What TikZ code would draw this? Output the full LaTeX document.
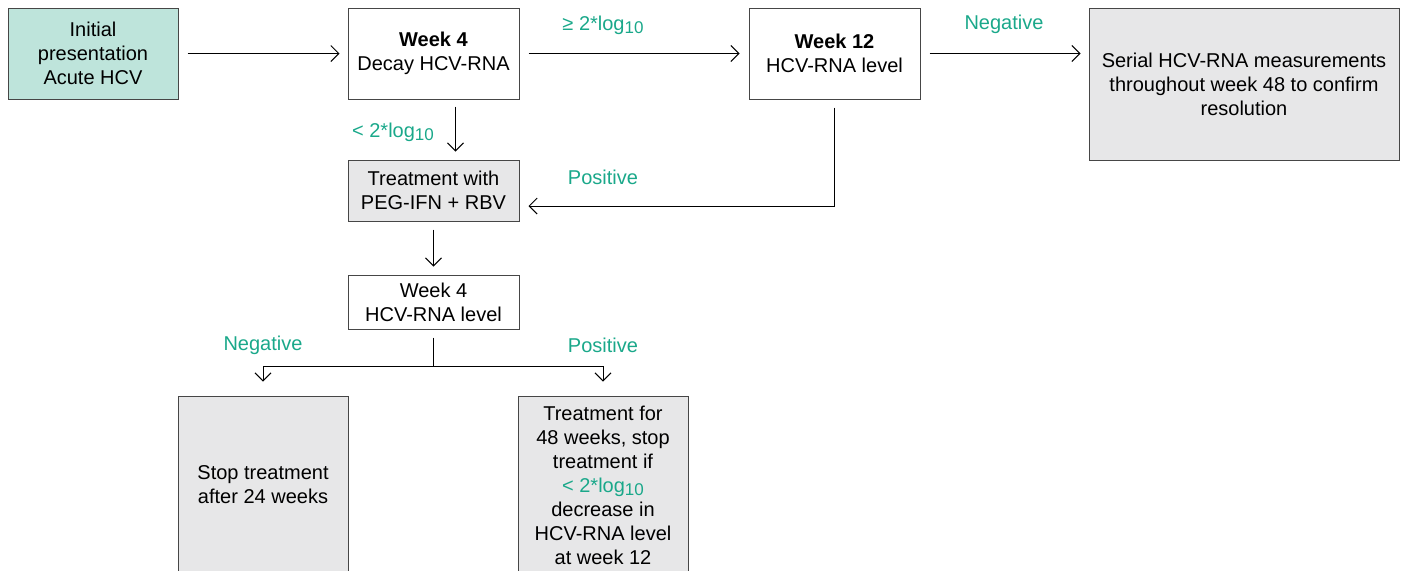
\documentclass[tikz,border=0pt]{standalone}
\usepackage{fontspec}
\setmainfont{Liberation Sans}
\usetikzlibrary{arrows.meta}
\usepackage{xcolor}
\definecolor{hcvgreen}{RGB}{26,168,138}
\definecolor{hcvteal}{RGB}{190,228,219}
\definecolor{hcvgray}{RGB}{231,231,232}
\definecolor{hcvline}{RGB}{70,70,70}
\newcommand{\logten}{log\raisebox{-0.3ex}{\fontsize{8.5}{8.5}\selectfont 10}}

\begin{document}
\begin{tikzpicture}[x=0.5pt,y=-0.5pt,font=\fontsize{10}{12}\selectfont]
    \tikzstyle{box}=[rectangle,draw=hcvline,line width=0.5pt,align=center,inner sep=0pt]
    \tikzstyle{white}=[box,fill=white]
    \tikzstyle{teal}=[box,fill=hcvteal]
    \tikzstyle{gray}=[box,fill=hcvgray]
    \tikzstyle{lbl}=[text=hcvgreen,inner sep=0pt]
    \tikzstyle{arr}=[line width=0.5pt,-{Straight Barb[length=4pt,width=8pt]}]
    \useasboundingbox (0,0) rectangle (1407,570);
    \clip (0,0) rectangle (1407,570);
    \node (init)[teal,minimum width=85pt,minimum height=45.5pt]  at (93,53.5)   {Initial\\presentation\\Acute HCV};
    \node (dec)[white,minimum width=85.5pt,minimum height=45.5pt] at (433.5,53.5) {\textbf{Week 4}\\Decay HCV-RNA};
    \node (wk)[white,minimum width=85.5pt,minimum height=45.5pt]  at (834.5,53.5) {\textbf{Week 12}\\HCV-RNA level};
    \node (ser)[gray,minimum width=155pt,minimum height=76pt]     at (1244,84)    {Serial HCV-RNA measurements\\throughout week 48 to confirm\\resolution};
    \node (trt)[gray,minimum width=85.5pt,minimum height=30.5pt]  at (433.5,190.5) {Treatment with\\PEG-IFN + RBV};
    \node (lvl)[white,minimum width=85.5pt,minimum height=27pt]   at (433.5,302)  {Week 4\\HCV-RNA level};
    \node (stop)[gray,minimum width=85pt,minimum height=89pt]     at (263,485)    {Stop treatment\\after 24 weeks};
    \node (ext)[gray,minimum width=85pt,minimum height=89pt]      at (603,485)    {Treatment for\\48 weeks, stop\\treatment if\\{\color{hcvgreen}< 2*\logten}\\decrease in\\HCV-RNA level\\at week 12};
    \coordinate (fork) at (433.5,366);

    \draw[arr,shorten <=4.5pt,shorten >=4pt] (init) -- (dec);
    \draw[arr,shorten <=4.5pt,shorten >=4.5pt] (dec) -- (wk);
    \draw[arr,shorten <=4.5pt,shorten >=4pt] (wk) -- (ser.west |- wk.east);
    \draw[arr,shorten <=3.5pt,shorten >=4pt] ([xshift=11pt]dec.south) -- ([xshift=11pt]trt.north);
    \draw[arr,shorten <=4pt,shorten >=4.5pt] (wk.south) |- ([yshift=-7.75pt]trt.east);
    \draw[arr,shorten <=4pt,shorten >=4pt] (trt) -- (lvl);
    \draw[shorten <=4pt] (lvl.south) -- (fork);
    \draw[arr,shorten >=7pt] (fork) -| (stop.north);
    \draw[arr,shorten >=7pt] (fork) -| (ext.north);

    \node (l1)[lbl] at (603,25)   {≥ 2*\logten};
    \node (l2)[lbl] at (1004,24)  {Negative};
    \node (l3)[lbl] at (393,132)  {< 2*\logten};
    \node (l4)[lbl] at (603,177)  {Positive};
    \node (l5)[lbl] at (263,345)  {Negative};
    \node (l6)[lbl] at (603,345)  {Positive};
\end{tikzpicture}
\end{document}
